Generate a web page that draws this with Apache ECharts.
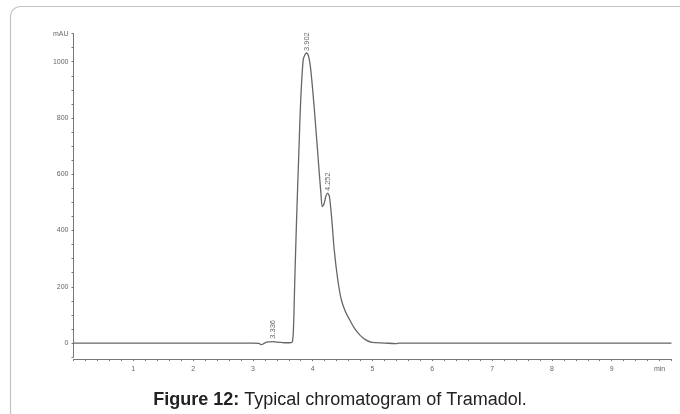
<!DOCTYPE html>
<html>
<head>
<meta charset="utf-8">
<script src="https://cdn.jsdelivr.net/npm/echarts@6/dist/echarts.min.js"></script>
<style>html,body{margin:0;padding:0;background:#fff}#c{width:680px;height:414px}</style>
</head>
<body>
<div id="c"></div>
<script>
// retention time (min)
var times = [0, 1, 2, 3.0, 3.1, 3.14, 3.18, 3.23, 3.28, 3.336, 3.4, 3.47, 3.55, 3.62, 3.66, 3.68, 3.70, 3.73, 3.77, 3.80, 3.84, 3.87, 3.90, 3.93, 3.96, 4.00, 4.05, 4.10, 4.14, 4.16, 4.19, 4.22, 4.25, 4.28, 4.32, 4.36, 4.42, 4.48, 4.55, 4.62, 4.70, 4.79, 4.88, 4.99, 5.2, 5.39, 5.45, 6, 7, 8, 9, 10];
// absorbance (mAU)
var signal = [0, 0, 0, 0, -1, -6, -2, 3, 4, 5, 3, 2, 1, 1, 4, 60, 220, 437, 688, 866, 1005, 1025, 1031, 1020, 985, 900, 770, 632, 525, 485, 495, 522, 533, 520, 437, 331, 224, 153, 110, 82, 52, 28, 12, 2, 0, -2, 0, 0, 0, 0, 0, 0];
// labelled peaks
var peakTimes = [3.336, 3.902, 4.252];
var peakValues = [8, 1031, 533];
var peakLabels = ['3.336', '3.902', '4.252'];
// axis labels
var yLabelValues = [0, 200, 400, 600, 800, 1000];
var yUnit = 'mAU';
var xLabelValues = [1, 2, 3, 4, 5, 6, 7, 8, 9];
var xUnit = 'min';
var captionBold = 'Figure 12:';
var captionText = ' Typical chromatogram of Tramadol.';

var lineData = times.map(function (t, i) { return [t, signal[i]]; });
var peakData = peakTimes.map(function (t, i) { return { value: [t, peakValues[i]], name: peakLabels[i] }; });

var chart = echarts.init(document.getElementById('c'), null, { renderer: 'canvas' });
chart.setOption({
  animation: false,
  backgroundColor: '#fff',
  textStyle: { fontFamily: 'Liberation Sans, Arial, sans-serif' },
  graphic: [{
    type: 'rect', silent: true, z: -1,
    shape: { x: 10.5, y: 6.5, width: 720, height: 450, r: 10 },
    style: { fill: 'none', stroke: '#c4c4c4', lineWidth: 1.2 }
  }],
  title: {
    left: 'center', top: 386,
    text: '{b|' + captionBold + '}' + captionText,
    textStyle: {
      fontSize: 18, fontWeight: 'normal', color: '#222',
      fontFamily: 'Liberation Sans, Arial, sans-serif',
      rich: { b: { fontSize: 18, fontWeight: 'bold', color: '#222', fontFamily: 'Liberation Sans, Arial, sans-serif' } }
    }
  },
  grid: { left: 73.5, right: 8.5, top: 33.6, bottom: 56.9, containLabel: false },
  xAxis: {
    type: 'value', min: 0, max: 10, interval: 0.2, offset: 2,
    axisLine: { show: true, onZero: false, lineStyle: { color: '#777', width: 1 } },
    axisTick: { show: true, length: 2, lineStyle: { color: '#777' } },
    splitLine: { show: false },
    axisLabel: {
      fontSize: 7, color: '#666', margin: 6,
      formatter: function (v) {
        var r = Math.round(v);
        if (Math.abs(v - 9.8) < 1e-6) return xUnit;
        if (Math.abs(v - r) < 1e-6 && xLabelValues.indexOf(r) >= 0) return String(r);
        return '';
      }
    }
  },
  yAxis: {
    type: 'value', min: -50, max: 1100, interval: 50,
    axisLine: { show: true, lineStyle: { color: '#777', width: 1 } },
    axisTick: { show: true, length: 2, lineStyle: { color: '#777' } },
    splitLine: { show: false },
    axisLabel: {
      fontSize: 7, color: '#666', margin: 5,
      formatter: function (v) {
        var r = Math.round(v);
        if (r === 1100) return yUnit;
        if (yLabelValues.indexOf(r) >= 0) return String(r);
        return '';
      }
    }
  },
  series: [{
    type: 'line',
    data: lineData,
    symbol: 'none',
    smooth: 0.3,
    lineStyle: { color: '#666', width: 1.3 },
    z: 3
  }, {
    type: 'scatter',
    data: peakData,
    symbolSize: 0,
    label: {
      show: true, position: 'top', distance: 2, rotate: 90,
      align: 'left', verticalAlign: 'middle',
      fontSize: 7.5, color: '#444',
      formatter: function (p) { return p.name; }
    },
    z: 4
  }]
});
</script>
</body>
</html>
